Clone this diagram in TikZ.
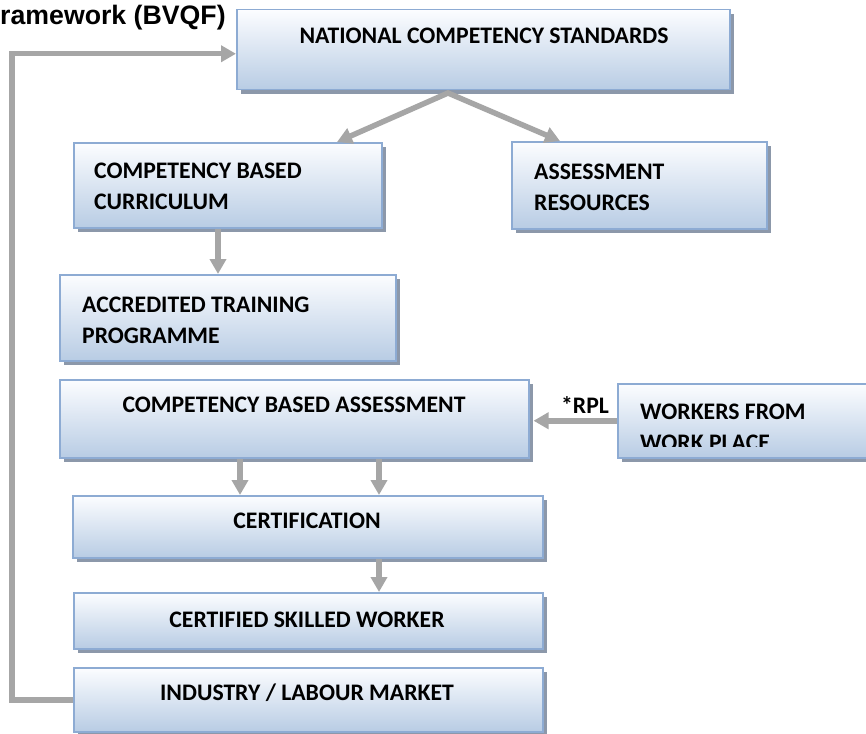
\documentclass[tikz,border=0pt]{standalone}
\usepackage{fontspec}
\setmainfont{Carlito}
\newfontfamily\arialf{Liberation Sans}
\usetikzlibrary{arrows.meta,shadows,calc}
\definecolor{boxborder}{RGB}{141,171,211}
\definecolor{boxtop}{RGB}{252,253,255}
\definecolor{boxbot}{RGB}{184,204,228}
\definecolor{shadowc}{RGB}{140,152,170}
\definecolor{arrowc}{RGB}{166,166,166}
\begin{document}
\begin{tikzpicture}[x=1pt,y=-1pt,
 gtip/.tip={Triangle[width=16pt,length=15pt]},
 box/.style={draw=boxborder, line width=1.5pt, top color=boxtop, bottom color=boxbot,
   drop shadow={shadow xshift=4pt, shadow yshift=-4pt, fill=shadowc, opacity=1},
   rectangle, inner sep=0pt, anchor=north west},
 txt/.style={font=\fontsize{23.7}{31}\selectfont\bfseries, inner sep=0pt, align=left},
 arr/.style={draw=arrowc, line width=5.5pt, -gtip},
]
\useasboundingbox (0,0) rectangle (866,733);
\clip (0,0) rectangle (866,733);

% title
\node[font=\arialf\bfseries\fontsize{26.7}{31}\selectfont, inner sep=0pt, anchor=base west] (title) at (0,25) {ramework (BVQF)};

% boxes
\node[box, minimum width=493pt, minimum height=80pt] (ncs) at (236,9) {};
\node[box, minimum width=308pt, minimum height=85pt] (curr) at (73,142) {};
\node[box, minimum width=255pt, minimum height=87pt] (ares) at (511,141) {};
\node[box, minimum width=336pt, minimum height=86pt] (acc) at (59,274) {};
\node[box, minimum width=469pt, minimum height=78pt] (cba) at (59,379) {};
\node[box, minimum width=290pt, minimum height=74pt] (work) at (617,383) {};
\node[box, minimum width=470pt, minimum height=62pt] (cert) at (72,495) {};
\node[box, minimum width=469pt, minimum height=56pt] (csw) at (73,592) {};
\node[box, minimum width=469pt, minimum height=64pt] (ind) at (73,667) {};

% texts
\node[txt, anchor=base] (ncs-t) at (484,43.4) {NATIONAL COMPETENCY STANDARDS};
\node[txt, anchor=west] (curr-t) at (94,186) {COMPETENCY BASED\\CURRICULUM};
\node[txt, anchor=west] (ares-t) at (534,187) {ASSESSMENT\\RESOURCES};
\node[txt, anchor=west] (acc-t) at (82,320) {ACCREDITED TRAINING\\PROGRAMME};
\node[txt, anchor=base] (cba-t) at (294,412) {COMPETENCY BASED ASSESSMENT};
\begin{scope}
\clip (work.north west) rectangle ($(work.south east)+(0,-12)$);
\node[txt, anchor=west] (work-t) at (640,427.5) {WORKERS FROM\\WORK PLACE};
\end{scope}
\node[txt, anchor=base] (cert-t) at (307,528) {CERTIFICATION};
\node[txt, anchor=base] (csw-t) at (307,627) {CERTIFIED SKILLED WORKER};
\node[txt, anchor=base] (ind-t) at (307,700.5) {INDUSTRY / LABOUR MARKET};
\node[txt, anchor=base] (rpl) at (585,413) {*RPL};

% connectors
\coordinate (apex) at (448,93);
\draw[draw=arrowc, line width=5.5pt, gtip-gtip, line join=miter]
  ($(curr.north west)+(264,0)$) -- (apex) -- ($(ares.north west)+(49,0)$);
\draw[arr] ($(curr.south west)+(145,0)$) -- ($(acc.north west)+(159,0)$);
\draw[arr] ($(cba.south west)+(181,0)$) -- ($(cert.north west)+(168,0)$);
\draw[arr] ($(cba.south west)+(320,0)$) -- ($(cert.north west)+(307,0)$);
\draw[arr] ($(cert.south west)+(307,0)$) -- ($(csw.north west)+(306,0)$);
\draw[arr] (work.west) -- ($(work.west -| cba.east)+(4,0)$);
\coordinate (loopx) at (12,0);
\coordinate (ncsin) at ($(ncs.west)+(0,4)$);
\draw[arr] (ind.west) -- (ind.west -| loopx) |- (ncsin);
\end{tikzpicture}
\end{document}
